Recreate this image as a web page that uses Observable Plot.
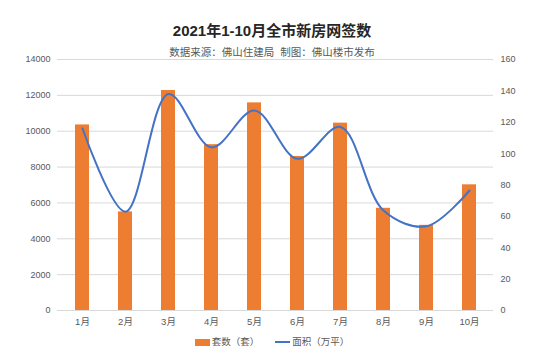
<!DOCTYPE html>
<html><head><meta charset="utf-8">
<script src="https://cdn.jsdelivr.net/npm/d3@7"></script>
<script src="https://cdn.jsdelivr.net/npm/@observablehq/plot@0.6"></script>
<style>
body{margin:0;background:#fff;font-family:"Liberation Sans","Noto Sans CJK SC",sans-serif;}
#wrap{position:relative;width:544px;height:354px;overflow:hidden;}
#title{position:absolute;left:0;width:544px;top:22px;text-align:center;font-size:15px;font-weight:bold;color:#262626;line-height:18px;z-index:2;}
#sub{position:absolute;left:0;width:544px;top:45px;text-align:center;font-size:10.5px;color:#595959;line-height:14px;z-index:2;}
#chart{position:absolute;left:0;top:55px;z-index:1;}
#legend{position:absolute;left:0;width:544px;top:335px;display:flex;justify-content:center;align-items:center;font-size:9.5px;color:#595959;line-height:14px;}
.sw{display:inline-block;margin-right:2px;}
</style></head>
<body><div id="wrap">
<div id="title">2021年1-10月全市新房网签数</div>
<div id="sub">数据来源：佛山住建局&nbsp;&nbsp;制图：佛山楼市发布</div>
<div id="chart"></div>
<div id="legend"></div>
</div>
<script>
const months = ["1月","2月","3月","4月","5月","6月","7月","8月","9月","10月"];
const units = [10350, 5500, 12270, 9250, 11580, 8590, 10450, 5700, 4750, 7010];
const areas = [116, 63, 138, 104, 127.5, 96.7, 117, 63.7, 53.7, 76.5];
const leftTicks = [0, 2000, 4000, 6000, 8000, 10000, 12000, 14000];
const rightTicks = [0, 20, 40, 60, 80, 100, 120, 140, 160];
const seriesNames = ["套数（套）", "面积（万平）"];
const colors = ["#ED7D31", "#4472C4"];

const k = 14000 / 160;
const data = months.map((m, i) => ({month: m, units: units[i], area: areas[i]}));

const chart = Plot.plot({
  width: 544, height: 277,
  marginTop: 4, marginBottom: 22, marginLeft: 57, marginRight: 51,
  style: {fontFamily: '"Liberation Sans","Noto Sans CJK SC",sans-serif', fontSize: "9px", color: "#595959", background: "transparent"},
  x: {domain: months, paddingInner: 0.68, paddingOuter: 0.34, label: null},
  y: {domain: [0, 14000], label: null},
  marks: [
    Plot.gridY(leftTicks, {stroke: "#d9d9d9", strokeOpacity: 1}),
    Plot.axisY({ticks: leftTicks, anchor: "left", tickSize: 0, tickPadding: 7, label: null, tickFormat: d => String(d)}),
    Plot.axisY(rightTicks.map(v => v * k), {anchor: "right", tickSize: 0, tickPadding: 7, label: null, tickFormat: d => String(Math.round(d / k))}),
    Plot.barY(data, {x: "month", y: "units", fill: colors[0]}),
    Plot.ruleY([0], {stroke: "#d9d9d9"}),
    Plot.axisX({tickSize: 0, tickPadding: 8, label: null, fontSize: 9.5}),
    Plot.line(data, {x: "month", y: d => d.area * k, stroke: colors[1], strokeWidth: 2, curve: "catmull-rom"})
  ]
});
document.getElementById("chart").appendChild(chart);

const lg = document.getElementById("legend");
seriesNames.forEach((n, i) => {
  const item = document.createElement("span");
  item.style.display = "inline-flex";
  item.style.alignItems = "center";
  item.style.marginRight = i === 0 ? "16px" : "0";
  const sw = document.createElement("span");
  sw.className = "sw";
  sw.style.width = "15px";
  sw.style.height = i === 0 ? "7px" : "2px";
  sw.style.background = colors[i];
  item.appendChild(sw);
  const t = document.createElement("span");
  t.textContent = n;
  item.appendChild(t);
  lg.appendChild(item);
});
</script>
</body></html>
